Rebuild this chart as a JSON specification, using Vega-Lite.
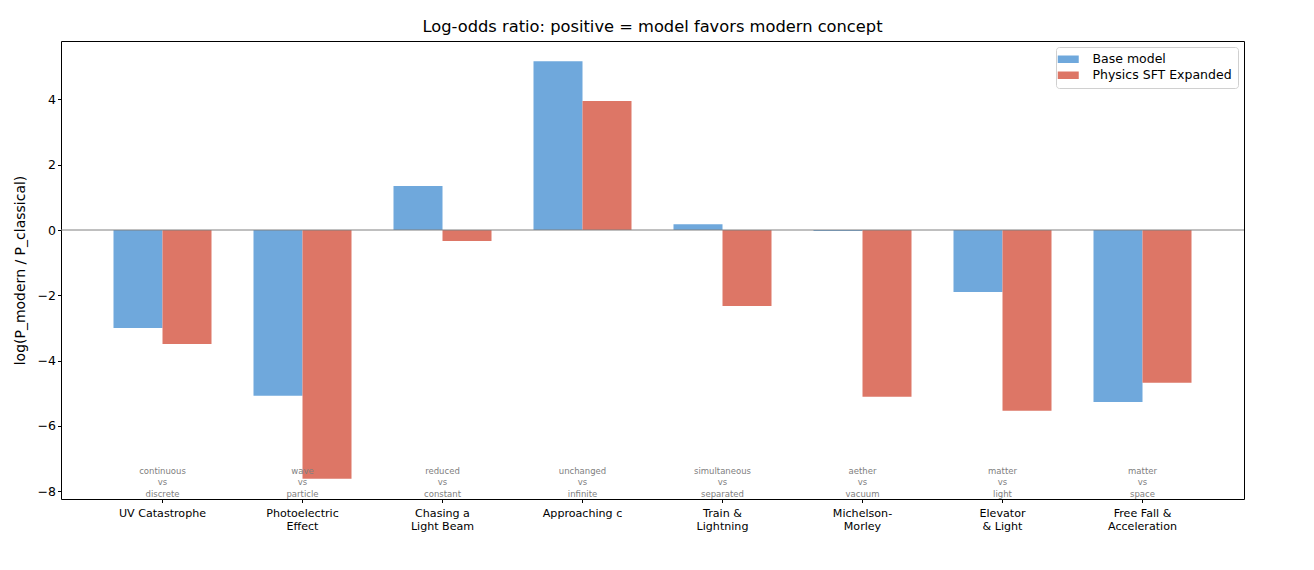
{
  "$schema": "https://vega.github.io/schema/vega-lite/v6.json",
  "width": 1183,
  "height": 458,
  "autosize": "none",
  "padding": {"left": 61, "top": 41, "right": 70, "bottom": 71},
  "title": {
    "text": "Log-odds ratio: positive = model favors modern concept",
    "fontSize": 16.3,
    "fontWeight": "normal",
    "font": "DejaVu Sans",
    "color": "black",
    "offset": 6
  },
  "datasets": {
    "bars": [
      {"concept": "UV Catastrophe", "series": "Base model", "value": -3.0},
      {"concept": "UV Catastrophe", "series": "Physics SFT Expanded", "value": -3.49},
      {"concept": "Photoelectric|Effect", "series": "Base model", "value": -5.08},
      {"concept": "Photoelectric|Effect", "series": "Physics SFT Expanded", "value": -7.62},
      {"concept": "Chasing a|Light Beam", "series": "Base model", "value": 1.35},
      {"concept": "Chasing a|Light Beam", "series": "Physics SFT Expanded", "value": -0.34},
      {"concept": "Approaching c", "series": "Base model", "value": 5.17},
      {"concept": "Approaching c", "series": "Physics SFT Expanded", "value": 3.95},
      {"concept": "Train &|Lightning", "series": "Base model", "value": 0.18},
      {"concept": "Train &|Lightning", "series": "Physics SFT Expanded", "value": -2.33},
      {"concept": "Michelson-|Morley", "series": "Base model", "value": -0.03},
      {"concept": "Michelson-|Morley", "series": "Physics SFT Expanded", "value": -5.11},
      {"concept": "Elevator|& Light", "series": "Base model", "value": -1.9},
      {"concept": "Elevator|& Light", "series": "Physics SFT Expanded", "value": -5.54},
      {"concept": "Free Fall &|Acceleration", "series": "Base model", "value": -5.27},
      {"concept": "Free Fall &|Acceleration", "series": "Physics SFT Expanded", "value": -4.68}
    ],
    "notes": [
      {"concept": "UV Catastrophe", "note": "continuous\nvs\ndiscrete"},
      {"concept": "Photoelectric|Effect", "note": "wave\nvs\nparticle"},
      {"concept": "Chasing a|Light Beam", "note": "reduced\nvs\nconstant"},
      {"concept": "Approaching c", "note": "unchanged\nvs\ninfinite"},
      {"concept": "Train &|Lightning", "note": "simultaneous\nvs\nseparated"},
      {"concept": "Michelson-|Morley", "note": "aether\nvs\nvacuum"},
      {"concept": "Elevator|& Light", "note": "matter\nvs\nlight"},
      {"concept": "Free Fall &|Acceleration", "note": "matter\nvs\nspace"}
    ]
  },
  "encoding": {
    "x": {
      "field": "concept",
      "type": "nominal",
      "title": null,
      "scale": {
        "domain": ["UV Catastrophe", "Photoelectric|Effect", "Chasing a|Light Beam", "Approaching c", "Train &|Lightning", "Michelson-|Morley", "Elevator|& Light", "Free Fall &|Acceleration"],
        "paddingInner": 0.3,
        "paddingOuter": 0.375
      },
      "axis": {
        "labelExpr": "split(datum.label, '|')",
        "labelAngle": 0,
        "labelAlign": "center",
        "labelFontSize": 11.1,
        "labelLineHeight": 13,
        "labelPadding": 5,
        "tickSize": 3.5,
        "domain": false
      }
    }
  },
  "layer": [
    {
      "data": {"name": "bars"},
      "mark": {"type": "bar"},
      "encoding": {
        "xOffset": {"field": "series", "type": "nominal", "scale": {"domain": ["Base model", "Physics SFT Expanded"]}},
        "y": {
          "field": "value",
          "type": "quantitative",
          "title": "log(P_modern / P_classical)",
          "scale": {"domain": [-8.24, 5.79], "nice": false, "zero": false},
          "axis": {
            "values": [-8, -6, -4, -2, 0, 2, 4],
            "labelExpr": "replace(datum.label, '-', '−')",
            "labelFontSize": 12.5,
            "grid": false,
            "domain": false,
            "tickSize": 3.5,
            "titleFontSize": 14,
            "titlePadding": 10
          }
        },
        "color": {
          "field": "series",
          "type": "nominal",
          "scale": {"domain": ["Base model", "Physics SFT Expanded"], "range": ["#6fa8dc", "#dd7666"]},
          "legend": {
            "title": null,
            "orient": "top-right",
            "offset": 6,
            "strokeColor": "#d0d0d0",
            "fillColor": "white",
            "padding": 6,
            "cornerRadius": 3,
            "symbolType": "M-2.1,-0.75H2.1V0.75H-2.1Z",
            "symbolSize": 100,
            "symbolStrokeWidth": 0,
            "symbolOpacity": 1,
            "labelFontSize": 12.5,
            "labelFont": "DejaVu Sans",
            "labelColor": "black",
            "rowPadding": 3,
            "labelOffset": 18
          }
        }
      }
    },
    {
      "data": {"values": [{}]},
      "mark": {"type": "rule", "color": "gray", "strokeWidth": 1},
      "encoding": {"y": {"datum": 0}, "x": null}
    },
    {
      "data": {"name": "notes"},
      "mark": {"type": "text", "fontSize": 8.5, "color": "gray", "lineBreak": "\n", "lineHeight": 11.5, "baseline": "middle", "font": "DejaVu Sans"},
      "encoding": {
        "y": {"datum": -7.37},
        "text": {"field": "note"}
      }
    }
  ],
  "config": {
    "view": {"stroke": "black", "strokeWidth": 1},
    "axis": {
      "labelFont": "DejaVu Sans",
      "titleFont": "DejaVu Sans",
      "titleFontWeight": "normal",
      "labelColor": "black",
      "titleColor": "black",
      "tickColor": "black"
    }
  }
}
